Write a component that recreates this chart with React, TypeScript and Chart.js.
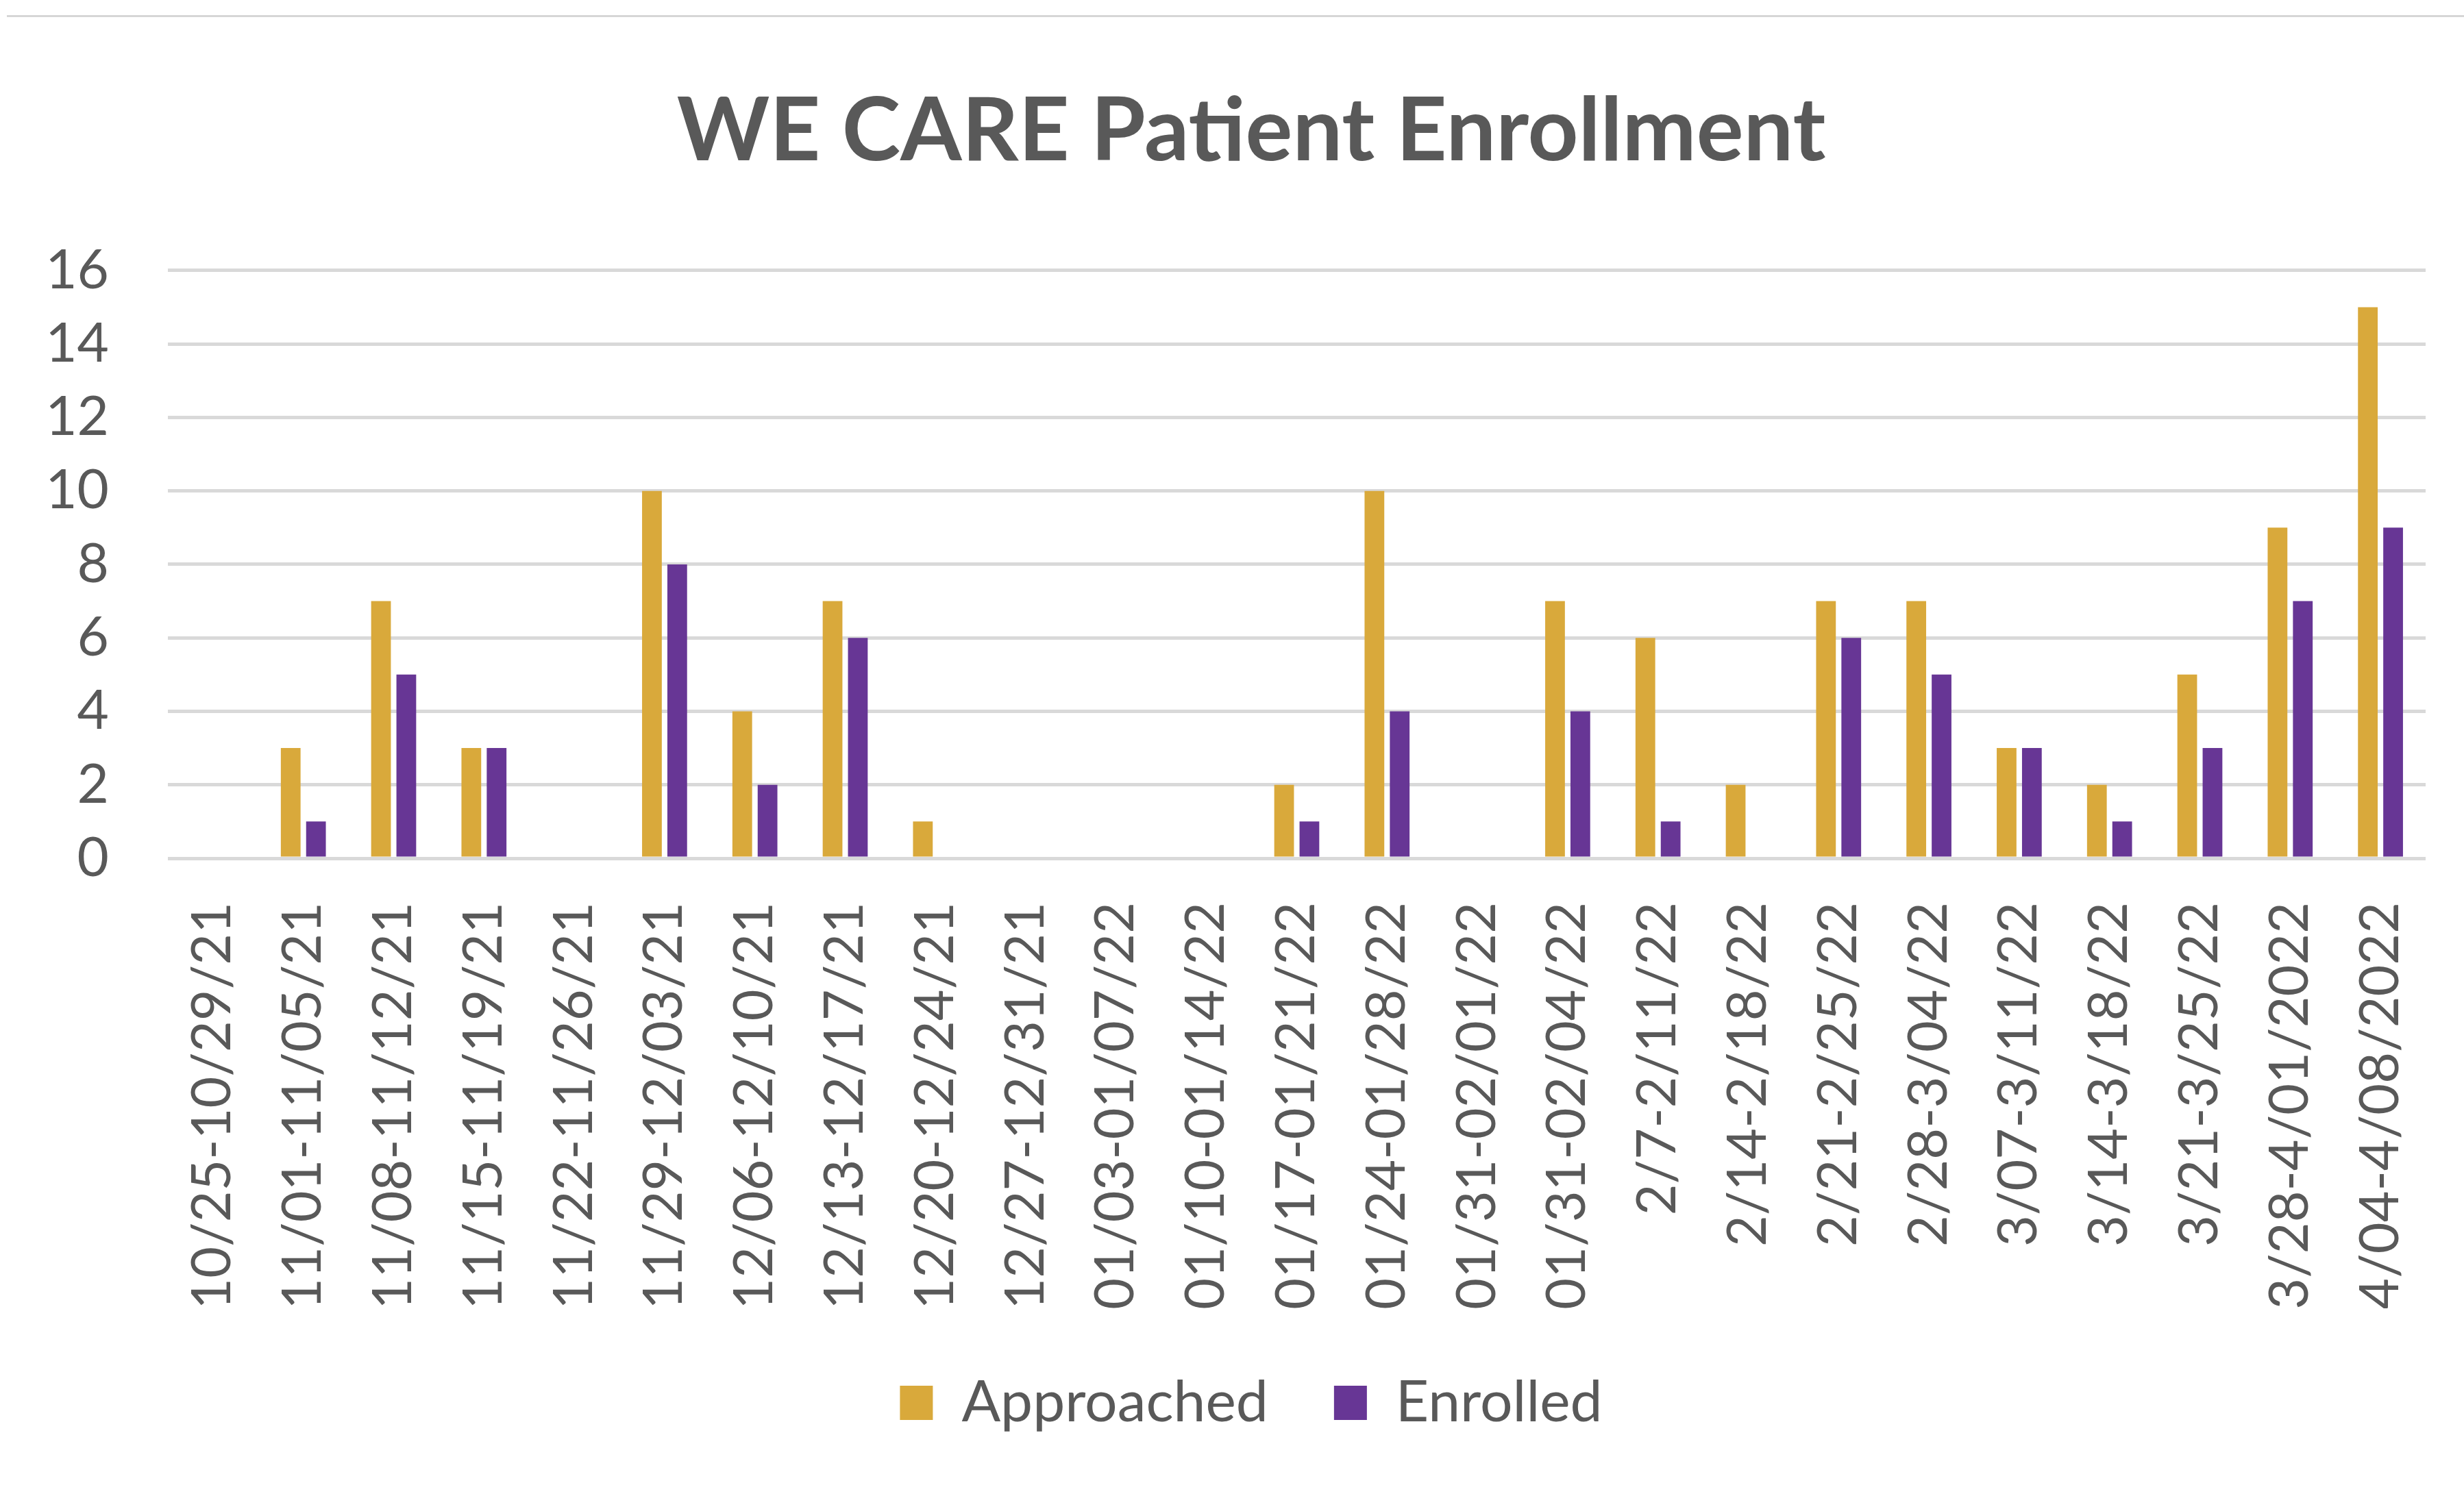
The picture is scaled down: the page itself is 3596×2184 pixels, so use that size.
import React, { useEffect, useRef } from "react";
import { Chart, registerables } from "chart.js";

Chart.register(...registerables);

const chartTitle = "WE CARE Patient Enrollment";

const categories = [
  "10/25-10/29/21",
  "11/01-11/05/21",
  "11/08-11/12/21",
  "11/15-11/19/21",
  "11/22-11/26/21",
  "11/29-12/03/21",
  "12/06-12/10/21",
  "12/13-12/17/21",
  "12/20-12/24/21",
  "12/27-12/31/21",
  "01/03-01/07/22",
  "01/10-01/14/22",
  "01/17-01/21/22",
  "01/24-01/28/22",
  "01/31-02/01/22",
  "01/31-02/04/22",
  "2/7-2/11/22",
  "2/14-2/18/22",
  "2/21-2/25/22",
  "2/28-3/04/22",
  "3/07-3/11/22",
  "3/14-3/18/22",
  "3/21-3/25/22",
  "3/28-4/01/2022",
  "4/04-4/08/2022",
];

const approached = [0, 3, 7, 3, 0, 10, 4, 7, 1, 0, 0, 0, 2, 10, 0, 7, 6, 2, 7, 7, 3, 2, 5, 9, 15];
const enrolled = [0, 1, 5, 3, 0, 8, 2, 6, 0, 0, 0, 0, 1, 4, 0, 4, 1, 0, 6, 5, 3, 1, 3, 7, 9];

const seriesNames = ["Approached", "Enrolled"];
const yTicks = [0, 2, 4, 6, 8, 10, 12, 14, 16];

const W = 3596;
const H = 2184;
const TEXT = "#595959";
const FONT = "Lato, 'Open Sans', 'Liberation Sans', sans-serif";

export default function App() {
  const ref = useRef<HTMLCanvasElement | null>(null);

  useEffect(() => {
    document.body.style.margin = "0";
    let chart: Chart | null = null;
    let cancelled = false;
    const make = () => {
      if (cancelled || !ref.current) return;
      chart = new Chart(ref.current, {
        type: "bar",
        data: {
          labels: categories,
          datasets: [
            {
              label: seriesNames[0],
              data: approached,
              backgroundColor: "#D9A93B",
              borderWidth: 0,
              categoryPercentage: 0.56,
              barPercentage: 0.78,
            },
            {
              label: seriesNames[1],
              data: enrolled,
              backgroundColor: "#673695",
              borderWidth: 0,
              categoryPercentage: 0.56,
              barPercentage: 0.78,
            },
          ],
        },
        options: {
          responsive: false,
          animation: false,
          devicePixelRatio: 1,
          layout: { padding: { left: 56, right: 0, top: 0, bottom: 84 } },
          plugins: {
            title: {
              display: true,
              text: chartTitle,
              color: TEXT,
              font: { family: FONT, size: 129, weight: "bold", lineHeight: 1.2 },
              padding: { top: 115, bottom: 125 },
            },
            legend: {
              display: true,
              position: "bottom",
              labels: {
                color: TEXT,
                font: { family: FONT, size: 84 },
                boxWidth: 48,
                boxHeight: 50,
                padding: 96,
              },
            },
            tooltip: { enabled: false },
          },
          scales: {
            x: {
              afterFit: (scale: any) => {
                scale.height = 657;
                scale.paddingLeft = 0;
                scale.paddingRight = 56;
              },
              grid: { display: false, drawTicks: false },
              border: { display: false },
              ticks: {
                color: TEXT,
                font: { family: FONT, size: 79 },
                maxRotation: 90,
                minRotation: 90,
                autoSkip: false,
                padding: 64,
              },
            },
            y: {
              min: 0,
              max: 16,
              afterFit: (scale: any) => {
                scale.width = 189;
              },
              afterBuildTicks: (scale: any) => {
                scale.ticks = yTicks.map((v) => ({ value: v }));
              },
              grid: { color: "#D9D9D9", lineWidth: 5, drawTicks: false },
              border: { display: false },
              ticks: {
                color: TEXT,
                font: { family: FONT, size: 80 },
                padding: 86,
              },
            },
          },
        },
      });
    };
    const fontsReady = (document as any).fonts
      ? Promise.all([
          (document as any).fonts.load("80px Lato"),
          (document as any).fonts.load("bold 129px Lato"),
        ]).catch(() => null)
      : Promise.resolve(null);
    fontsReady.then(make);
    return () => {
      cancelled = true;
      if (chart) chart.destroy();
    };
  }, []);

  return (
    <div style={{ position: "absolute", left: 0, top: 0, width: W, height: H, background: "#fff" }}>
      <div
        style={{
          position: "absolute",
          left: 10,
          right: 0,
          top: 22,
          height: 3,
          background: "#D6D6D6",
        }}
      />
      <canvas ref={ref} width={W} height={H} style={{ display: "block", width: W, height: H }} />
    </div>
  );
}
